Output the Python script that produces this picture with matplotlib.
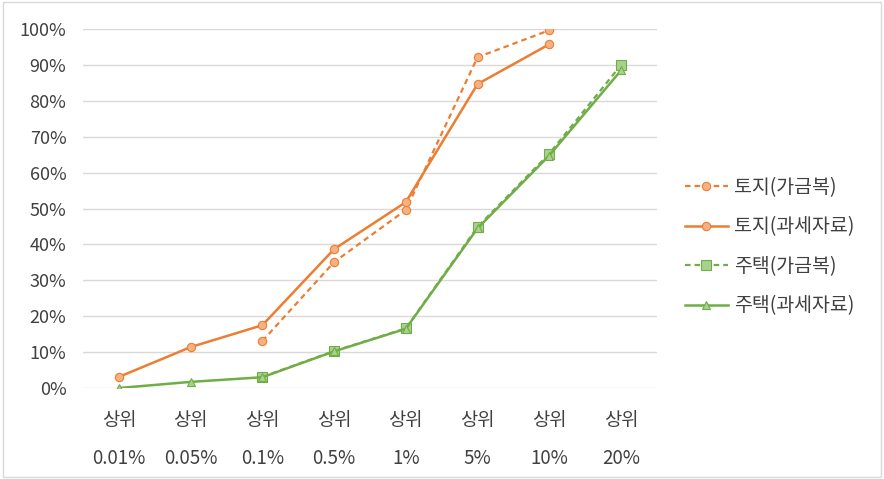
import numpy as np
import matplotlib
matplotlib.use("Agg")
import matplotlib.pyplot as plt
from matplotlib.ticker import PercentFormatter

plt.rcParams['font.family'] = ['Noto Sans CJK KR', 'DejaVu Sans']

categories = ['상위\n0.01%', '상위\n0.05%', '상위\n0.1%', '상위\n0.5%',
              '상위\n1%', '상위\n5%', '상위\n10%', '상위\n20%']

# values in %, None = no data
land_gageum = [None, None, 13.1, 35.1, 49.6, 92.2, 99.7, None]
land_tax = [3.1, 11.4, 17.5, 38.7, 51.8, 84.7, 95.8, None]
house_gageum = [None, None, 3.1, 10.3, 16.6, 44.9, 65.3, 90.0]
house_tax = [0.0, 1.7, 3.0, 10.2, 16.5, 44.5, 64.8, 88.5]

orange = '#ED7D31'
orange_fill = '#F4B183'
green = '#70AD47'
green_fill = '#A9D18E'


def arr(v):
    return np.array([np.nan if a is None else a / 100 for a in v])


x = np.arange(len(categories))

fig = plt.figure(figsize=(8.84, 4.79), dpi=100)
ax = fig.add_axes([0.094, 0.19, 0.649, 0.749])

ax.plot(x, arr(land_gageum), color=orange, lw=1.6, ls=(0, (2.5, 1.8)), marker='o',
        ms=6, mfc=orange_fill, mec=orange, mew=0.8, label='토지(가금복)')
ax.plot(x, arr(land_tax), color=orange, lw=1.8, marker='o',
        ms=6, mfc=orange_fill, mec=orange, mew=0.8, label='토지(과세자료)')
ax.plot(x, arr(house_gageum), color=green, lw=1.6, ls=(0, (2.5, 1.8)), marker='s',
        ms=7, mfc=green_fill, mec=green, mew=0.8, label='주택(가금복)')
ax.plot(x, arr(house_tax), color=green, lw=1.8, marker='^',
        ms=6, mfc=green_fill, mec=green, mew=0.8, label='주택(과세자료)')

ax.set_xlim(-0.5, 7.5)
ax.set_ylim(0, 1.0)
ax.set_yticks(np.arange(0, 1.01, 0.1))
ax.yaxis.set_major_formatter(PercentFormatter(1.0, decimals=0))
ax.set_xticks(x)
ax.set_xticklabels(categories, linespacing=2.05, fontsize=13.5)
ax.tick_params(axis='both', length=0, colors='#404040')
ax.tick_params(axis='y', labelsize=13, pad=12)
ax.tick_params(axis='x', pad=16)
ax.grid(axis='y', color='#D9D9D9', lw=1)
ax.set_axisbelow(True)
for s in ax.spines.values():
    s.set_visible(False)

leg = fig.legend(loc='center left', bbox_to_anchor=(0.755, 0.485), frameon=False,
                 fontsize=14, handlelength=2.2, handletextpad=0.3, labelspacing=0.95)
for t in leg.get_texts():
    t.set_color('#404040')

# light frame around the chart area
fig.patches.append(plt.Rectangle((0.003, 0.005), 0.994, 0.99, transform=fig.transFigure,
                                 fill=False, ec='#D9D9D9', lw=1))

fig.savefig('out.png', dpi=100)
